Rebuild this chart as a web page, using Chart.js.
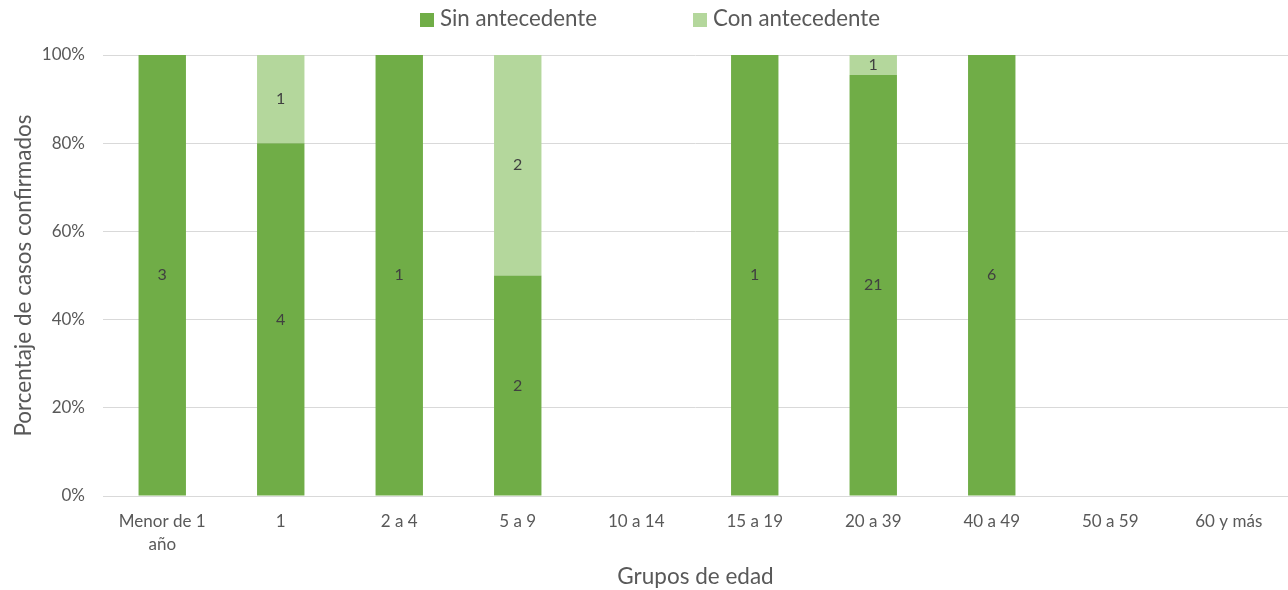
<!DOCTYPE html>
<html>
<head>
<meta charset="utf-8">
<script src="https://cdn.jsdelivr.net/npm/chart.js@4.4.0/dist/chart.umd.min.js"></script>
<style>
  body { margin: 0; background: #fff; font-family: Lato, "Open Sans", sans-serif; }
  #wrap { position: relative; width: 1288px; height: 590px; }
  #legend { position: absolute; top: 3px; left: 6px; width: 1288px; text-align: center; font-size: 22.3px; line-height: 30px; color: #595959; }
  #legend span { display: inline-block; margin: 0 48px; }
  #legend i { display: inline-block; width: 14px; height: 14px; margin-right: 6px; vertical-align: -1px; }
</style>
</head>
<body>
<div id="wrap">
  <div id="legend"></div>
  <canvas id="myChart" width="1288" height="590"></canvas>
</div>
<script>
// age groups and confirmed case counts
var categories = [['Menor de 1', 'año'], '1', '2 a 4', '5 a 9', '10 a 14', '15 a 19', '20 a 39', '40 a 49', '50 a 59', '60 y más'];
var sinAntecedente = [3, 4, 1, 2, 0, 1, 21, 6, 0, 0];
var conAntecedente = [0, 1, 0, 2, 0, 0, 1, 0, 0, 0];
var seriesNames = ['Sin antecedente', 'Con antecedente'];
var seriesColors = ['#70AD47', '#B4D79C'];
var yTicks = [0, 20, 40, 60, 80, 100];

function pct(arr, i) {
    var tot = sinAntecedente[i] + conAntecedente[i];
    return tot ? arr[i] / tot * 100 : 0;
}

var counts = [sinAntecedente, conAntecedente];

// simple legend in html
document.getElementById('legend').innerHTML = seriesNames.map(function(n, k) {
    return '<span><i style="background:' + seriesColors[k] + '"></i>' + n + '</span>';
}).join('');

// draw the counts in the middle of each segment
var countLabels = {
    id: 'countLabels',
    afterDatasetsDraw: function(chart) {
        var ctx = chart.ctx;
        ctx.save();
        ctx.font = '16px Lato, "Open Sans", sans-serif';
        ctx.fillStyle = '#404040';
        ctx.textAlign = 'center';
        ctx.textBaseline = 'middle';
        chart.data.datasets.forEach(function(ds, d) {
            chart.getDatasetMeta(d).data.forEach(function(bar, i) {
                var v = counts[d][i];
                if (!v) return;
                var mid = (bar.y + bar.base) / 2;
                ctx.fillText(String(v), bar.x, mid);
            });
        });
        ctx.restore();
    }
};

var tickFont = { family: 'Lato', size: 17, lineHeight: 1.35 };
var titleFont = { family: 'Lato', size: 22.5, lineHeight: 1.0 };

var ctx = document.getElementById('myChart').getContext('2d');
var myChart = new Chart(ctx, {
    type: 'bar',
    data: {
        labels: categories,
        datasets: [
            { label: seriesNames[0], data: sinAntecedente.map(function(v, i) { return pct(sinAntecedente, i); }), backgroundColor: seriesColors[0] },
            { label: seriesNames[1], data: conAntecedente.map(function(v, i) { return pct(conAntecedente, i); }), backgroundColor: seriesColors[1] }
        ]
    },
    options: {
        responsive: false,
        animation: false,
        layout: { padding: { top: 55, right: 0, bottom: 2, left: 12 } },
        datasets: { bar: { barPercentage: 0.4, categoryPercentage: 1 } },
        plugins: { legend: { display: false }, tooltip: { enabled: false } },
        scales: {
            x: {
                stacked: true,
                afterFit: function(axis) { axis.height = 92; },
                grid: { display: false, drawTicks: false },
                border: { color: '#D9D9D9', width: 1 },
                ticks: { color: '#595959', font: tickFont, padding: 14, maxRotation: 0 },
                title: { display: true, text: 'Grupos de edad', color: '#595959', font: titleFont, padding: { top: 0, bottom: 0 } }
            },
            y: {
                stacked: true,
                min: 0,
                max: 100,
                afterFit: function(axis) { axis.width = 91; },
                afterBuildTicks: function(axis) { axis.ticks = yTicks.map(function(v) { return { value: v }; }); },
                grid: { color: '#D9D9D9', drawTicks: false },
                border: { display: false },
                ticks: { color: '#595959', font: { family: 'Lato', size: 17 }, padding: 18, callback: function(v) { return v + '%'; } },
                title: { display: true, text: 'Porcentaje de casos confirmados', color: '#595959', font: titleFont, padding: { top: 0, bottom: 0 } }
            }
        }
    },
    plugins: [countLabels]
});
</script>
</body>
</html>
